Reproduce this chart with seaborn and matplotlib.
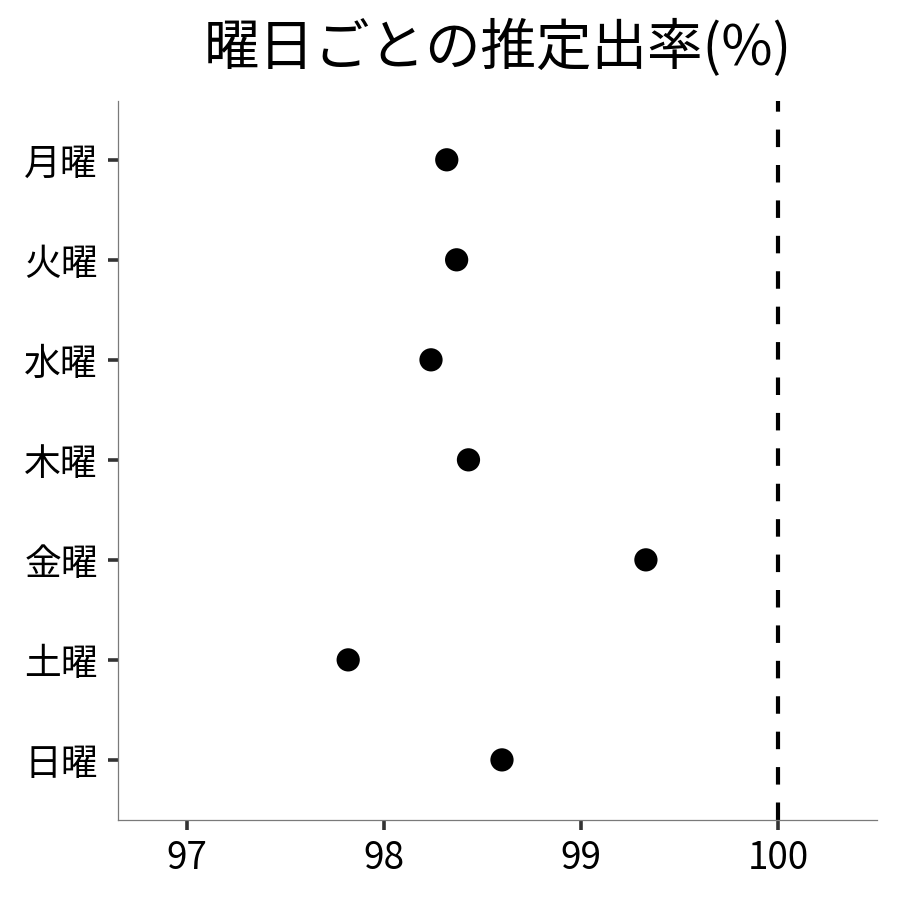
import matplotlib
matplotlib.use("Agg")
import matplotlib.pyplot as plt
import seaborn as sns
import pandas as pd

# data
DAYS = ["月曜", "火曜", "水曜", "木曜", "金曜", "土曜", "日曜"]
RATES = [98.32, 98.37, 98.24, 98.43, 99.33, 97.82, 98.60]
X_TICKS = [97, 98, 99, 100]
REF_LINE = 100

sns.set_theme(style="white")
plt.rcParams["font.family"] = ["Noto Sans CJK JP", "DejaVu Sans"]

df = pd.DataFrame({"day": DAYS, "rate": RATES})

fig = plt.figure(figsize=(9, 9), dpi=100)
ax = fig.add_axes([0.131, 0.089, 0.843, 0.799])

sns.scatterplot(data=df, x="rate", y="day", ax=ax,
                color="black", s=280, edgecolor="none", zorder=3)

ax.axvline(REF_LINE, color="black", lw=3, ls=(0, (4.2, 4.3)), zorder=2)

ax.set_xlim(96.652, 100.50)
ax.set_ylim(6.6, -0.59)
ax.set_xticks(X_TICKS)
ax.set_xticklabels([str(t) for t in X_TICKS])
ax.set_xlabel("")
ax.set_ylabel("")

for side in ["top", "right"]:
    ax.spines[side].set_visible(False)
for side in ["left", "bottom"]:
    ax.spines[side].set_color("#7a7a7a")
    ax.spines[side].set_linewidth(0.9)

ax.tick_params(axis="both", which="major", bottom=True, left=True,
               direction="out", length=7.5, width=2.6,
               color="#333333", labelsize=26.5, labelcolor="black")
ax.tick_params(axis="y", pad=7)
ax.tick_params(axis="x", pad=6)

fig.suptitle("曜日ごとの推定出率(%)", fontsize=40, x=0.553, y=0.978,
             va="top", color="black")

fig.savefig("out.png", dpi=100)
plt.close(fig)
